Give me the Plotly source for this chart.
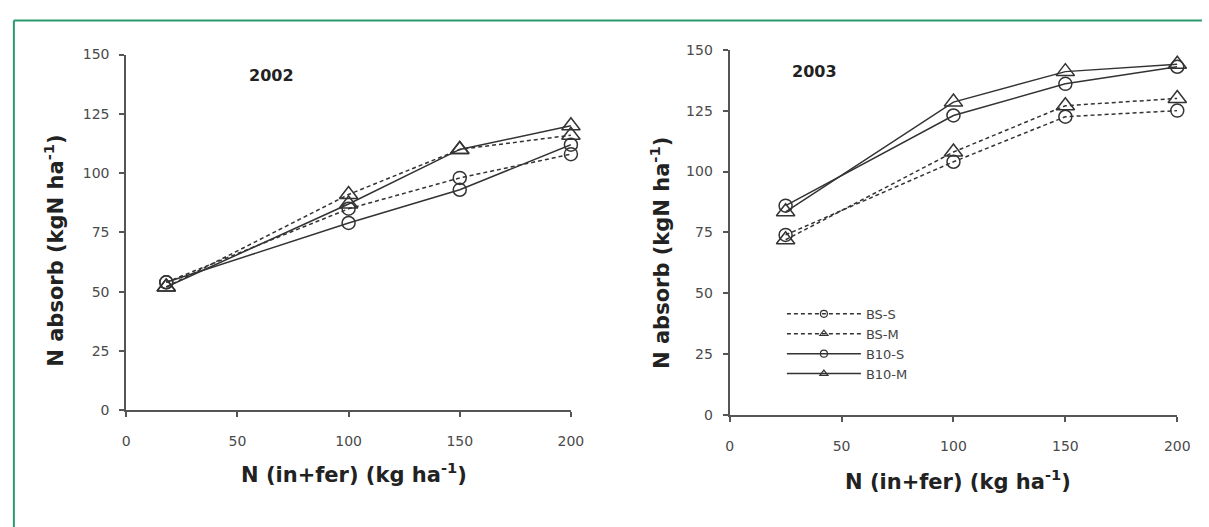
import plotly.graph_objects as go

# ---------------- data ----------------
x_2002 = [18, 100, 150, 200]
x_2003 = [25, 100, 150, 200]
series_names = ["BS-S", "BS-M", "B10-S", "B10-M"]

bs_s_2002 = [54, 85, 98, 108]
bs_m_2002 = [52, 91, 110, 116]
b10_s_2002 = [54, 79, 93, 112]
b10_m_2002 = [52, 87, 110, 120]

bs_s_2003 = [74, 104, 122.5, 125]
bs_m_2003 = [72, 108, 127, 130]
b10_s_2003 = [86, 123, 136, 143]
b10_m_2003 = [83.5, 128.5, 141, 144]

x_ticks = [0, 50, 100, 150, 200]
y_ticks = [0, 25, 50, 75, 100, 125, 150]
panel_titles = ["2002", "2003"]
y_title = "N absorb (kgN ha<sup>-1</sup>)"
x_title = "N (in+fer) (kg ha<sup>-1</sup>)"

# ---------------- layout helpers ----------------
W, H = 1209, 527
def px(v):
    return v / W
def py(v):
    return 1 - v / H

LINE_COL = "#333333"
styles = {
    "BS-S": dict(dash="4px,3px", symbol="circle-open", size=13),
    "BS-M": dict(dash="4px,3px", symbol="triangle-up-open", size=16),
    "B10-S": dict(dash="solid", symbol="circle-open", size=13),
    "B10-M": dict(dash="solid", symbol="triangle-up-open", size=16),
}

data_2002 = dict(zip(series_names, [bs_s_2002, bs_m_2002, b10_s_2002, b10_m_2002]))
data_2003 = dict(zip(series_names, [bs_s_2003, bs_m_2003, b10_s_2003, b10_m_2003]))

fig = go.Figure()

for xs, data, xa, ya in [(x_2002, data_2002, "x", "y"), (x_2003, data_2003, "x2", "y2")]:
    for name in series_names:
        st = styles[name]
        fig.add_trace(go.Scatter(
            x=xs, y=data[name], name=name, mode="lines+markers",
            xaxis=xa, yaxis=ya, showlegend=False, cliponaxis=False,
            line=dict(color=LINE_COL, width=1.5, dash=st["dash"]),
            marker=dict(symbol=st["symbol"], size=st["size"], color=LINE_COL,
                        line=dict(width=1.5, color=LINE_COL)),
        ))

# legend entries (small symbols as in the original legend)
for name in series_names:
    st = styles[name]
    fig.add_trace(go.Scatter(
        x=[None], y=[None], name=name, mode="lines+markers",
        xaxis="x2", yaxis="y2", showlegend=True,
        line=dict(color=LINE_COL, width=1.5, dash=st["dash"]),
        marker=dict(symbol=st["symbol"], size=7, color=LINE_COL,
                    line=dict(width=1.2, color=LINE_COL)),
    ))

axis_common = dict(
    showline=True, linecolor="#555555", linewidth=2, mirror=False,
    ticks="outside", ticklen=5, tickwidth=1.5, tickcolor="#555555",
    showgrid=False, zeroline=False,
    tickfont=dict(family="DejaVu Sans", size=14, color="#4a4a4a"),
)

fig.update_layout(
    width=W, height=H,
    margin=dict(l=0, r=0, t=0, b=0),
    paper_bgcolor="white", plot_bgcolor="white",
    xaxis=dict(domain=[px(124), px(575)], range=[0, 200], tickvals=x_ticks,
               anchor="y", ticklabelstandoff=12, **axis_common),
    yaxis=dict(domain=[py(415), py(48)], range=[0, 150], tickvals=y_ticks,
               anchor="x", ticklabelstandoff=7, **axis_common),
    xaxis2=dict(domain=[px(736), px(1190)], range=[0, 200], tickvals=x_ticks,
                anchor="y2", ticklabelstandoff=12, **axis_common),
    yaxis2=dict(domain=[py(420), py(43)], range=[0, 150], tickvals=y_ticks,
                anchor="x2", ticklabelstandoff=7, **axis_common),
    showlegend=True,
    legend=dict(
        x=px(789), y=py(300), xanchor="left", yanchor="top",
        bgcolor="rgba(0,0,0,0)", borderwidth=0,
        font=dict(family="DejaVu Sans", size=13, color="#444444"),
        itemwidth=74, tracegroupgap=0,
    ),
)

annots = []
title_font = dict(family="DejaVu Sans", size=21, color="#222222", weight="bold")
for (tx, ty), t in zip([(271, 70), (822, 65)], panel_titles):
    annots.append(dict(x=px(tx), y=py(ty), xref="paper", yref="paper", text=t,
                       showarrow=False, xanchor="center", yanchor="middle",
                       font=dict(family="DejaVu Sans", size=16, color="#222222", weight="bold")))
for (tx, ty) in [(51, 250), (666, 253)]:
    annots.append(dict(x=px(tx), y=py(ty), xref="paper", yref="paper", text=y_title,
                       textangle=-90, showarrow=False, xanchor="center", yanchor="middle",
                       font=title_font))
for (tx, ty) in [(355, 480), (968, 487)]:
    annots.append(dict(x=px(tx), y=py(ty), xref="paper", yref="paper", text=x_title,
                       showarrow=False, xanchor="center", yanchor="middle",
                       font=title_font))
fig.update_layout(annotations=annots)

# green frame around the figure (top and left edges visible)
GREEN = "#2a9a6e"
fig.update_layout(shapes=[
    dict(type="line", xref="paper", yref="paper", x0=px(10), x1=px(10), y0=py(13), y1=py(540),
         line=dict(color=GREEN, width=2)),
    dict(type="line", xref="paper", yref="paper", x0=px(10), x1=px(1215), y0=py(13), y1=py(13),
         line=dict(color=GREEN, width=2)),
])

fig.write_html("out.html")
